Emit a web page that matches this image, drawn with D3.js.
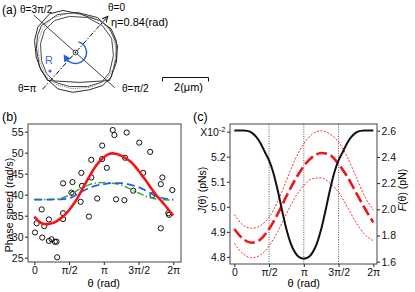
<!DOCTYPE html>
<html>
<head>
<meta charset="utf-8">
<script src="https://cdn.jsdelivr.net/npm/d3@7"></script>
<style>
  body { margin: 0; background: #fff; }
  svg { display: block; font-family: "Liberation Sans", Arial, sans-serif; }
</style>
</head>
<body>
<svg id="fig" width="415" height="292"></svg>
<script>
// ---- panel (a): cell outlines in um, relative to the rotation centre (y down)
const eta = 0.84;
const traceOuter = [[-1.13,-1.68],[-0.55,-1.83],[0.17,-1.68],[1.04,-1.39],[1.55,-1.03],[1.77,-0.52],[1.77,0.27],[1.55,1.07],[1.19,1.43],[0.61,1.62],[-0.12,1.73],[-0.77,1.58],[-1.20,1.19],[-1.49,0.78],[-1.71,0.20],[-1.78,-0.52],[-1.64,-1.10]];
const traceInner = [[-0.91,-1.39],[-0.26,-1.57],[0.52,-1.52],[1.17,-1.17],[1.57,-0.61],[1.65,0.13],[1.48,0.87],[1.13,1.30],[0.52,1.48],[-0.26,1.48],[-0.87,1.30],[-1.26,0.91],[-1.48,0.35],[-1.52,-0.39],[-1.35,-0.96]];
const tracePoly = [[-1.48,-1.17],[-0.78,-1.65],[0.09,-1.74],[0.96,-1.52],[1.48,-1.04],[1.83,-0.30],[1.78,0.43],[1.48,1.22],[0.17,1.30],[-1.22,1.22],[-1.57,0.61],[-1.70,-0.17],[-1.65,-0.74]];
const traceDotted = [[-1.04,-1.48],[-0.35,-1.70],[0.43,-1.65],[1.13,-1.35],[1.61,-0.83],[1.78,-0.09],[1.65,0.70],[1.30,1.22],[0.61,1.52],[-0.17,1.57],[-0.83,1.39],[-1.30,1.00],[-1.57,0.35],[-1.65,-0.43],[-1.43,-1.04]];
const thetaAxisReach = [2.1, 2.15];   // towards theta=0, towards theta=pi
const perpAxisReach = [2.3, 2.45];    // towards theta=pi/2, towards theta=3pi/2
const scaleBarUm = 2;

// ---- panel (b): theta in units of pi
const thetaFine = [0,0.0625,0.125,0.1875,0.25,0.3125,0.375,0.4375,0.5,0.5625,0.625,0.6875,0.75,0.8125,0.875,0.9375,1,1.0625,1.125,1.1875,1.25,1.3125,1.375,1.4375,1.5,1.5625,1.625,1.6875,1.75,1.8125,1.875,1.9375,2];
const fitRed = [34.8,33.7,33.1,33.0,33.2,33.6,34.3,35.2,36.3,37.7,39.3,41.2,43.1,44.9,46.6,47.9,48.9,49.6,49.85,49.7,49.3,48.7,48.0,47.0,45.7,44.3,42.9,41.4,40.0,38.8,37.6,36.3,35.1];
const thetaCoarse = [0,0.125,0.25,0.375,0.5,0.625,0.75,0.875,1,1.125,1.25,1.375,1.5,1.625,1.75,1.875,2];
const modelBlue = [38.85,38.85,38.85,38.9,39.1,40.2,41.3,42.1,42.5,42.75,42.75,42.4,41.8,40.8,39.7,39.1,38.9];
const modelGreen = [38.85,38.85,38.9,39.1,39.9,41.1,42.1,42.75,42.9,42.75,42.3,41.4,40.4,39.5,39.0,38.8,38.7];
const obsTheta = [0.01,0.034,0.106,0.114,0.143,0.21,0.21,0.249,0.296,0.32,0.329,0.414,0.414,0.414,0.534,0.557,0.549,0.667,0.677,0.686,0.786,0.82,0.82,0.906,0.977,0.977,1.043,1.129,1.153,1.177,1.296,1.306,1.329,1.424,1.51,1.567,1.667,1.7,1.82,1.82,1.843,1.929,1.939,1.986];
const obsSpeed = [31.0,33.2,36.5,29.8,32.5,34.1,29.0,29.4,28.8,28.8,25.1,42.7,35.6,34.2,40.5,40.2,43.0,38.3,45.2,42.1,34.8,48.3,44.1,39.1,51.7,48.5,46.4,55.4,54.2,38.9,38.7,48.8,54.8,40.95,52.4,45.2,50.2,39.9,42.5,32.0,44.1,35.6,35.2,41.1];
const speedTicks = [25,30,35,40,45,50,55];

// ---- panel (c)
const jValues = [5.305,5.305,5.305,5.303,5.296,5.28,5.255,5.22,5.185,5.135,5.065,4.985,4.91,4.853,4.817,4.798,4.793,4.798,4.817,4.853,4.91,4.985,5.065,5.135,5.185,5.22,5.255,5.28,5.296,5.303,5.305,5.305,5.305];
const forceMid = [1.85,1.775,1.745,1.77,1.85,1.965,2.10,2.225,2.33,2.40,2.43,2.415,2.345,2.25,2.13,2.01,1.90];
const forceUpper = [1.96,1.88,1.855,1.875,1.94,2.06,2.22,2.38,2.50,2.575,2.60,2.575,2.515,2.40,2.25,2.10,1.995];
const forceLower = [1.74,1.66,1.63,1.65,1.72,1.83,1.965,2.09,2.18,2.235,2.24,2.20,2.13,2.02,1.90,1.81,1.76];
const jTicks = [4.8,4.9,5.0,5.1,5.2,5.3];
const forceTicks = [1.6,1.8,2.0,2.2,2.4,2.6];
const piTicks = [0,0.5,1,1.5,2];
const piLabels = ["0","π/2","π","3π/2","2π"];
const guideTheta = [0.5,1,1.5];

const svg = d3.select("#fig");

// ================= (a)
const umPx = 23, cxA = 75.5, cyA = 52.5;
const xa = d3.scaleLinear().domain([0, 1]).range([cxA, cxA + umPx]);
const ya = d3.scaleLinear().domain([0, 1]).range([cyA, cyA + umPx]);
const loop = d3.line().x(d => xa(d[0])).y(d => ya(d[1])).curve(d3.curveLinearClosed);

const gA = svg.append("g");
[[traceOuter, "#111", null], [tracePoly, "#222", null], [traceInner, "#333", null], [traceDotted, "#777", "1.2,1"]]
  .forEach(([pts, col, dash]) => {
    gA.append("path").attr("d", loop(pts)).attr("fill", "none")
      .attr("stroke", col).attr("stroke-width", 0.9).attr("stroke-dasharray", dash);
  });

const dir0 = [Math.cos(eta), -Math.sin(eta)];
const dir90 = [Math.sin(eta), Math.cos(eta)];
const at = (dir, r) => [xa(dir[0] * r), ya(dir[1] * r)];

const p90 = at(dir90, perpAxisReach[0]), p270 = at(dir90, -perpAxisReach[1]);
gA.append("line").attr("x1", p270[0]).attr("y1", p270[1]).attr("x2", p90[0]).attr("y2", p90[1])
  .attr("stroke", "#111").attr("stroke-width", 0.8);

const p0 = at(dir0, thetaAxisReach[0]), p180 = at(dir0, -thetaAxisReach[1]);
gA.append("line").attr("x1", p180[0]).attr("y1", p180[1]).attr("x2", p0[0]).attr("y2", p0[1])
  .attr("stroke", "#111").attr("stroke-width", 1).attr("stroke-dasharray", "5,1.8,1.5,1.8");
{
  const ang = Math.atan2(p0[1] - p180[1], p0[0] - p180[0]);
  const arm = 6, spread = 0.45;
  const a1 = [p0[0] - arm * Math.cos(ang - spread), p0[1] - arm * Math.sin(ang - spread)];
  const a2 = [p0[0] - arm * Math.cos(ang + spread), p0[1] - arm * Math.sin(ang + spread)];
  gA.append("path").attr("d", `M${a1}L${p0}L${a2}`).attr("fill", "none")
    .attr("stroke", "#111").attr("stroke-width", 1.1);
}

// rotation arrow
{
  const r = 11, a0 = -1.3, a1 = 2.55;
  const p = d3.path();
  p.arc(cxA, cyA, r, a0, a1, false);
  gA.append("path").attr("d", p.toString()).attr("fill", "none")
    .attr("stroke", "#2a5be6").attr("stroke-width", 1.4);
  const e = [cxA + r * Math.cos(a1), cyA + r * Math.sin(a1)];
  const t = [-Math.sin(a1), Math.cos(a1)], n = [Math.cos(a1), Math.sin(a1)];
  const tip = [e[0] + t[0] * 5, e[1] + t[1] * 5];
  const b1 = [e[0] - t[0] * 2 + n[0] * 3.8, e[1] - t[1] * 2 + n[1] * 3.8];
  const b2 = [e[0] - t[0] * 2 - n[0] * 3.8, e[1] - t[1] * 2 - n[1] * 3.8];
  gA.append("path").attr("d", `M${tip}L${b1}L${b2}Z`).attr("fill", "#2a5be6");
}
gA.append("circle").attr("cx", cxA).attr("cy", cyA).attr("r", 2.4)
  .attr("fill", "#fff").attr("stroke", "#111").attr("stroke-width", 0.8);
gA.append("circle").attr("cx", cxA).attr("cy", cyA).attr("r", 0.9).attr("fill", "#111");

gA.append("text").attr("x", 45).attr("y", 64).attr("font-size", 11).attr("fill", "#4468de").text("R");
gA.append("circle").attr("cx", 50).attr("cy", 71).attr("r", 1.6).attr("fill", "#4468de");

// scale bar
{
  const x0 = 162.5, yb = 77.5, len = scaleBarUm * umPx;
  gA.append("path").attr("d", `M${x0},${yb + 4}V${yb}H${x0 + len}V${yb + 4}`)
    .attr("fill", "none").attr("stroke", "#111").attr("stroke-width", 1);
  gA.append("text").attr("x", x0 + len / 2 + 3).attr("y", 91).attr("font-size", 11)
    .attr("text-anchor", "middle").text(`${scaleBarUm}(μm)`);
}

const labA = [
  ["(a)", 2, 14, 12], ["θ=3π/2", 20, 13, 10], ["θ=0", 108, 11, 10], ["η=0.84(rad)", 111, 26, 11],
  ["θ=π", 18, 92, 10], ["θ=π/2", 122, 92, 10]
];
labA.forEach(([t, x, y, fs]) => gA.append("text").attr("x", x).attr("y", y).attr("font-size", fs).text(t));

// ================= shared helpers
function styleAxis(g) {
  g.select(".domain").remove();
  g.attr("font-family", null).attr("font-size", 10.5);
  g.selectAll(".tick line").attr("stroke", "#222");
  g.selectAll(".tick text").attr("fill", "#111");
}

// ================= (b)
const xb = d3.scaleLinear().domain([0, 2]).range([34.3, 173.3]);
const yb = d3.scaleLinear().domain([25, 55]).range([257.7, 131.7]);
const gB = svg.append("g");

gB.append("g").attr("transform", "translate(28,0)")
  .call(d3.axisLeft(yb).tickValues(speedTicks).tickSize(3).tickPadding(1.5))
  .call(styleAxis);
gB.append("g").attr("transform", "translate(0,262)")
  .call(d3.axisBottom(xb).tickValues(piTicks).tickFormat((d, i) => piLabels[i]).tickSize(3).tickPadding(1.5))
  .call(styleAxis);

const lineB = (xs, ys) => d3.line().x((d, i) => xb(xs[i])).y(d => yb(d)).curve(d3.curveMonotoneX)(ys);

gB.selectAll("circle.obs").data(obsTheta.map((t, i) => [t, obsSpeed[i]])).join("circle")
  .attr("class", "obs").attr("cx", d => xb(d[0])).attr("cy", d => yb(d[1])).attr("r", 2.6)
  .attr("fill", "none").attr("stroke", "#111").attr("stroke-width", 1);

gB.append("path").attr("d", lineB(thetaCoarse, modelGreen)).attr("fill", "none")
  .attr("stroke", "#3aa736").attr("stroke-width", 1.5).attr("stroke-dasharray", "7,2.5,1.5,2.5");
gB.append("path").attr("d", lineB(thetaCoarse, modelBlue)).attr("fill", "none")
  .attr("stroke", "#2160e8").attr("stroke-width", 1.7).attr("stroke-dasharray", "8,4");
gB.append("path").attr("d", lineB(thetaFine, fitRed)).attr("fill", "none")
  .attr("stroke", "#f21616").attr("stroke-width", 2.6);

gB.append("rect").attr("x", 28).attr("y", 124).attr("width", 153).attr("height", 138)
  .attr("fill", "none").attr("stroke", "#444").attr("stroke-width", 1);

gB.append("text").attr("x", 2).attr("y", 121).attr("font-size", 12.5).text("(b)");
gB.append("text").attr("transform", "translate(13,205) rotate(-90)").attr("text-anchor", "middle")
  .attr("font-size", 10.5).text("Phase speed  (rad/s)");
gB.append("text").attr("x", xb(1)).attr("y", 287).attr("text-anchor", "middle")
  .attr("font-size", 11).text("θ (rad)");

// ================= (c)
const xc = d3.scaleLinear().domain([0, 2]).range([234.3, 373.3]);
const yJ = d3.scaleLinear().domain([4.8, 5.2]).range([256.9, 156.7]);
const yF = d3.scaleLinear().domain([1.6, 2.6]).range([261.7, 130.7]);
const gC = svg.append("g");

gC.selectAll("line.guide").data(guideTheta).join("line").attr("class", "guide")
  .attr("x1", d => xc(d)).attr("x2", d => xc(d)).attr("y1", 124).attr("y2", 264)
  .attr("stroke", "#444").attr("stroke-width", 0.9).attr("stroke-dasharray", "1,1.4");

const jAxis = gC.append("g").attr("transform", "translate(230,0)")
  .call(d3.axisLeft(yJ).tickValues(jTicks).tickFormat(d3.format(".1f")).tickSize(3).tickPadding(1.5))
  .call(styleAxis);
jAxis.selectAll(".tick text").filter(d => d === 5.3).text("X10")
  .append("tspan").attr("dy", -4).attr("font-size", 7.5).text("-2");

gC.append("g").attr("transform", "translate(377,0)")
  .call(d3.axisRight(yF).tickValues(forceTicks).tickFormat(d3.format(".1f")).tickSize(3).tickPadding(1.5))
  .call(styleAxis);
gC.append("g").attr("transform", "translate(0,264)")
  .call(d3.axisBottom(xc).tickValues(piTicks).tickFormat((d, i) => piLabels[i]).tickSize(3).tickPadding(1.5))
  .call(styleAxis);

const lineF = ys => d3.line().x((d, i) => xc(thetaCoarse[i])).y(d => yF(d)).curve(d3.curveMonotoneX)(ys);
[forceUpper, forceLower].forEach(ys => gC.append("path").attr("d", lineF(ys)).attr("fill", "none")
  .attr("stroke", "#f23030").attr("stroke-width", 1).attr("stroke-dasharray", "2,1.6"));
gC.append("path").attr("d", lineF(forceMid)).attr("fill", "none")
  .attr("stroke", "#f21616").attr("stroke-width", 2.6).attr("stroke-dasharray", "11,4");

gC.append("path")
  .attr("d", d3.line().x((d, i) => xc(thetaFine[i])).y(d => yJ(d)).curve(d3.curveMonotoneX)(jValues))
  .attr("fill", "none").attr("stroke", "#111").attr("stroke-width", 2);

gC.append("rect").attr("x", 230).attr("y", 124).attr("width", 147).attr("height", 140)
  .attr("fill", "none").attr("stroke", "#444").attr("stroke-width", 1);

gC.append("text").attr("x", 193).attr("y", 121).attr("font-size", 12.5).text("(c)");
{
  const t = gC.append("text").attr("transform", "translate(206,190) rotate(-90)")
    .attr("text-anchor", "middle").attr("font-size", 10.5);
  t.append("tspan").attr("font-style", "italic").text("J");
  t.append("tspan").text("(θ)   (pNs)");
  const f = gC.append("text").attr("transform", "translate(406,190) rotate(-90)")
    .attr("text-anchor", "middle").attr("font-size", 10.5);
  f.append("tspan").attr("font-style", "italic").text("F");
  f.append("tspan").text("(θ) (pN)");
}
gC.append("text").attr("x", xc(1)).attr("y", 287).attr("text-anchor", "middle")
  .attr("font-size", 11).text("θ (rad)");
</script>
</body>
</html>
